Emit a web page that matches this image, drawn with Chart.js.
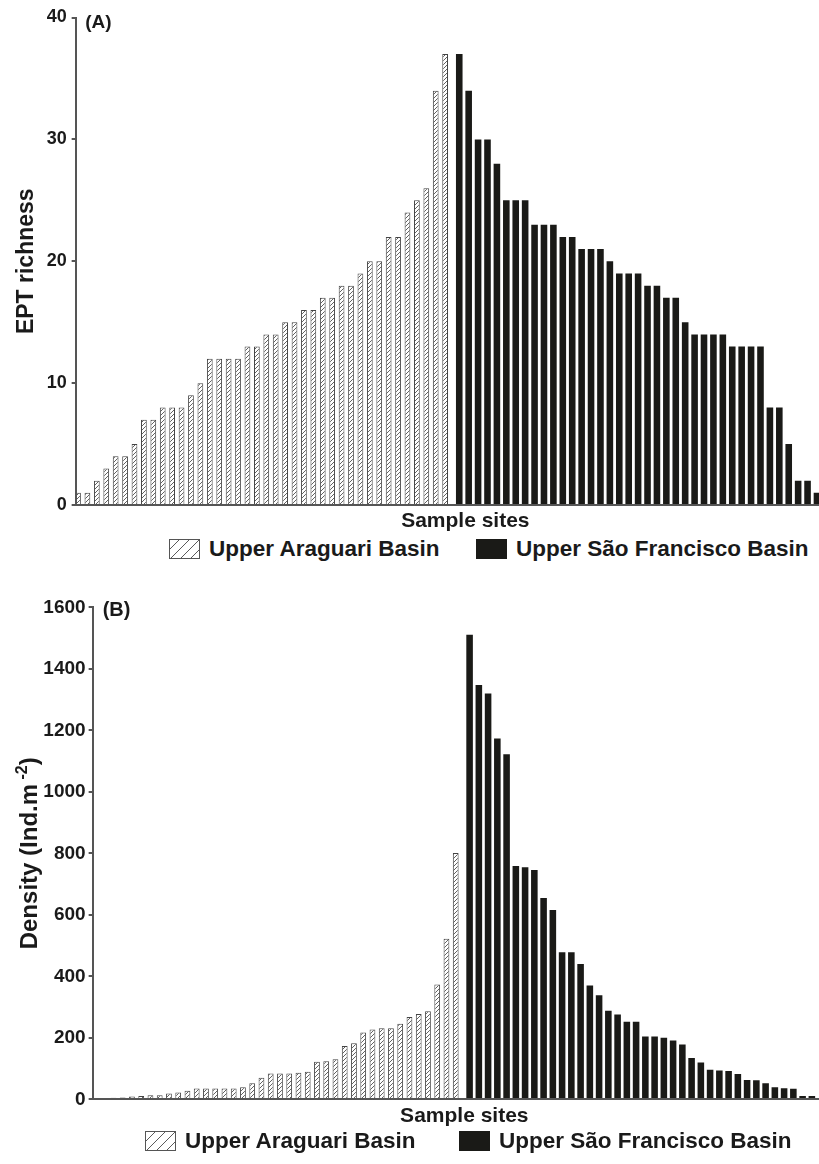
<!DOCTYPE html>
<html>
<head>
<meta charset="utf-8">
<title>EPT richness and density by sample site</title>
<script src="https://cdn.jsdelivr.net/npm/chart.js@4.4.1/dist/chart.umd.min.js"></script>
<style>
  html, body { margin: 0; padding: 0; background: #ffffff; }
  body {
    width: 819px; height: 1164px; overflow: hidden; position: relative;
    font-family: "Liberation Sans", Arial, Helvetica, sans-serif;
  }
  .panel { position: absolute; left: 0; }
  #panelA { top: 0; width: 855px; height: 536px; }
  #panelB { top: 580px; width: 836px; height: 552px; }
  .legend-item {
    position: absolute; height: 24px; display: flex; align-items: center;
    white-space: nowrap; font-weight: bold; font-size: 22.5px; color: #1a1a1a;
  }
  .swatch { width: 31px; height: 20px; box-sizing: border-box; margin-right: 9px; flex: none; }
  .swatch.hatch {
    border: 1px solid #555;
    background: #fff repeating-linear-gradient(135deg, transparent 0 6px, #5a5a5a 6px 7px);
  }
  .swatch.solid { background: #1a1a17; }
</style>
</head>
<body>
<div class="panel" id="panelA"><canvas id="chartA"></canvas></div>
<div class="panel" id="panelB"><canvas id="chartB"></canvas></div>

<div class="legend-item" style="left:169px; top:537px;"><span class="swatch hatch"></span><span>Upper Araguari Basin</span></div>
<div class="legend-item" style="left:476px; top:537px;"><span class="swatch solid"></span><span>Upper São Francisco Basin</span></div>
<div class="legend-item" style="left:145px; top:1129px;"><span class="swatch hatch"></span><span>Upper Araguari Basin</span></div>
<div class="legend-item" style="left:459px; top:1129px;"><span class="swatch solid"></span><span>Upper São Francisco Basin</span></div>

<script>
// EPT richness per sample site, sorted within each basin
const araguariEPT = [1, 1, 2, 3, 4, 4, 5, 7, 7, 8, 8, 8, 9, 10, 12, 12, 12, 12, 13, 13,
                     14, 14, 15, 15, 16, 16, 17, 17, 18, 18, 19, 20, 20, 22, 22, 24, 25, 26, 34, 37];
const saoFranciscoEPT = [37, 34, 30, 30, 28, 25, 25, 25, 23, 23, 23, 22, 22, 21, 21, 21, 20, 19, 19, 19,
                         18, 18, 17, 17, 15, 14, 14, 14, 14, 13, 13, 13, 13, 8, 8, 5, 2, 2, 1];

// EPT density (Ind.m-2) per sample site
const araguariDensity = [2, 3, 5, 6, 9, 11, 13, 13, 19, 22, 28, 35, 35, 35, 35, 35, 39, 52, 70, 84,
                         84, 84, 86, 90, 122, 124, 130, 173, 182, 217, 227, 231, 231, 246, 268, 277, 286, 373, 522, 801];
const saoFranciscoDensity = [1511, 1347, 1320, 1173, 1122, 759, 755, 746, 655, 616, 478, 478, 440, 370, 338,
                             288, 276, 252, 252, 204, 204, 200, 191, 178, 134, 120, 96, 94, 92, 82,
                             63, 62, 52, 39, 36, 34, 11, 11];

const basinNames = ['Upper Araguari Basin', 'Upper São Francisco Basin'];
const eptTicks = [0, 10, 20, 30, 40];
const densityTicks = [0, 200, 400, 600, 800, 1000, 1200, 1400, 1600];

const FONT = '"Liberation Sans", Arial, Helvetica, sans-serif';
const INK = '#1a1a1a';
const AXIS = '#555555';
const BLACK_BAR = '#1a1a17';

// sites are numbered consecutively: Araguari first, São Francisco after
const toPoints = (values, firstSite) => values.map((v, i) => ({ x: firstSite + i, y: v }));

// fine diagonal hatching for the Araguari bars
function hatchPattern() {
  const tile = document.createElement('canvas');
  tile.width = 4; tile.height = 4;
  const t = tile.getContext('2d');
  t.fillStyle = '#ffffff';
  t.fillRect(0, 0, 4, 4);
  t.strokeStyle = '#3a3a3a';
  t.lineWidth = 0.8;
  t.beginPath();
  t.moveTo(0, 4); t.lineTo(4, 0);
  t.moveTo(-1, 1); t.lineTo(1, -1);
  t.moveTo(3, 5); t.lineTo(5, 3);
  t.stroke();
  return document.createElement('canvas').getContext('2d').createPattern(tile, 'repeat');
}
const hatch = hatchPattern();

// "(A)" / "(B)" panel tag in the upper-left corner of the plot area
const panelTag = {
  id: 'panelTag',
  afterDraw(chart, args, opts) {
    const { ctx, chartArea } = chart;
    ctx.save();
    ctx.font = 'bold ' + opts.size + 'px ' + FONT;
    ctx.fillStyle = INK;
    ctx.textBaseline = 'middle';
    ctx.textAlign = 'left';
    ctx.fillText(opts.text, chartArea.left + opts.dx, chartArea.top + opts.dy);
    ctx.restore();
  }
};

// vertical axis title made of runs, so a unit can carry a raised exponent
const runTitle = {
  id: 'runTitle',
  afterDraw(chart, args, opts) {
    if (!opts || !opts.runs) return;
    const { ctx, chartArea } = chart;
    const runs = opts.runs.map(r => ({
      text: r.text,
      font: 'bold ' + (r.sup ? opts.supSize : opts.size) + 'px ' + FONT,
      rise: r.sup ? opts.rise : 0
    }));
    ctx.save();
    let total = 0;
    runs.forEach(r => { ctx.font = r.font; r.w = ctx.measureText(r.text).width; total += r.w; });
    ctx.translate(opts.x, (chartArea.top + chartArea.bottom) / 2);
    ctx.rotate(-Math.PI / 2);
    ctx.fillStyle = INK;
    ctx.textBaseline = 'middle';
    ctx.textAlign = 'left';
    let cx = -total / 2;
    runs.forEach(r => {
      ctx.font = r.font;
      ctx.fillText(r.text, cx, -r.rise);
      cx += r.w;
    });
    ctx.restore();
  }
};

function buildPanel(canvasId, spec) {
  const araguariSites = toPoints(spec.araguari, 1);
  const saoFranciscoSites = toPoints(spec.saoFrancisco, spec.araguari.length + 1);
  return new Chart(document.getElementById(canvasId), {
    type: 'bar',
    data: {
      datasets: [
        {
          label: basinNames[0],
          data: araguariSites,
          backgroundColor: hatch,
          borderColor: '#444444',
          borderWidth: 1,
          borderSkipped: 'start',
          categoryPercentage: 1,
          barPercentage: spec.hatchBar
        },
        {
          label: basinNames[1],
          data: saoFranciscoSites,
          backgroundColor: BLACK_BAR,
          borderWidth: 0,
          categoryPercentage: 1,
          barPercentage: spec.solidBar
        }
      ]
    },
    options: {
      responsive: true,
      maintainAspectRatio: false,
      animation: false,
      events: [],
      layout: { padding: { top: spec.padTop, right: 0, bottom: 0, left: 0 } },
      plugins: {
        legend: { display: false },
        tooltip: { enabled: false },
        panelTag: spec.tag,
        runTitle: spec.runTitle || false
      },
      scales: {
        x: {
          type: 'linear',
          min: 0.5,
          max: spec.xMax,
          offset: false,
          ticks: { display: false, stepSize: 10, includeBounds: false },
          grid: { display: false, drawTicks: false },
          border: { display: true, color: AXIS, width: 2, z: 1 },
          title: {
            display: true, text: 'Sample sites', color: INK,
            font: { family: FONT, size: 21, weight: 'bold' },
            padding: spec.xTitlePad
          }
        },
        y: {
          min: spec.ticks[0],
          max: spec.ticks[spec.ticks.length - 1],
          afterFit: (scale) => { scale.width = spec.axisLeft; },
          afterBuildTicks: (scale) => { scale.ticks = spec.ticks.map(v => ({ value: v })); },
          ticks: {
            color: INK, padding: spec.tickPad,
            font: { family: FONT, size: spec.tickSize, weight: 'bold' },
            callback: (value) => String(value)
          },
          grid: {
            display: true, drawOnChartArea: false, drawTicks: true,
            tickLength: 4, color: AXIS, lineWidth: 2
          },
          border: { display: true, color: AXIS, width: 2, z: 1 },
          title: {
            display: !!spec.yTitle, text: spec.yTitle || '', color: INK,
            font: { family: FONT, size: spec.yTitleSize, weight: 'bold' },
            padding: { top: spec.yTitlePad, bottom: 0 }
          }
        }
      }
    },
    plugins: [panelTag, runTitle]
  });
}

buildPanel('chartA', {
  araguari: araguariEPT,
  saoFrancisco: saoFranciscoEPT,
  ticks: eptTicks,
  xMax: 83.29,
  axisLeft: 75.65,
  padTop: 17.5,
  tickSize: 18,
  tickPad: 5,
  yTitle: 'EPT richness',
  yTitleSize: 23,
  yTitlePad: 13,
  xTitlePad: { top: 3.4, bottom: 2.4 },
  hatchBar: 1.22,
  solidBar: 1.4,
  tag: { text: '(A)', size: 19, dx: 9.5, dy: 5 }
});

buildPanel('chartB', {
  araguari: araguariDensity,
  saoFrancisco: saoFranciscoDensity,
  ticks: densityTicks,
  xMax: 80.86,
  axisLeft: 92.64,
  padTop: 27.3,
  tickSize: 19,
  tickPad: 3,
  runTitle: {
    x: 30, size: 24, supSize: 16, rise: 7,
    runs: [
      { text: 'Density (Ind.m' },
      { text: ' -2', sup: true },
      { text: ')' }
    ]
  },
  xTitlePad: { top: 4.1, bottom: 3.4 },
  hatchBar: 1.25,
  solidBar: 1.42,
  tag: { text: '(B)', size: 20, dx: 10, dy: 2.7 }
});
</script>
</body>
</html>
